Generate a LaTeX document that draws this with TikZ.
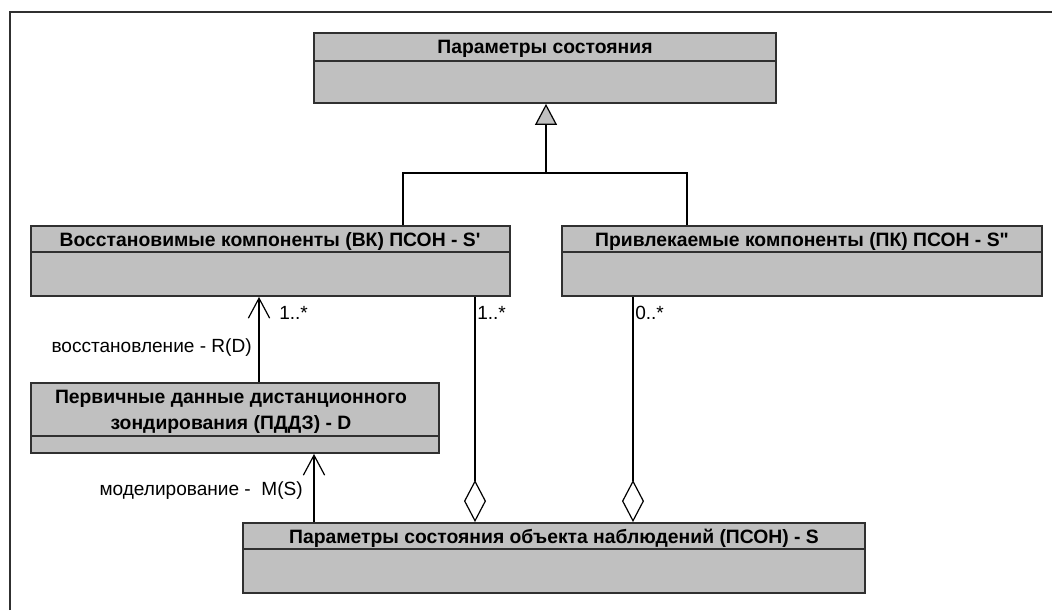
\documentclass[tikz,border=0pt]{standalone}
\usepackage{fontspec}
\setmainfont{Liberation Sans}
\newfontfamily\plainquote{Liberation Sans}
\usetikzlibrary{arrows.meta,fit}
\definecolor{boxgray}{HTML}{C0C0C0}
\definecolor{edgegray}{HTML}{303030}
\begin{document}
\begin{tikzpicture}[x=0.75pt,y=-0.75pt,
  box/.style={draw=edgegray,fill=boxgray,line width=1.4pt,inner sep=0pt},
  divider/.style={draw=edgegray,line width=1.4pt},
  hdr/.style={font=\fontsize{14.5}{19.5}\selectfont\bfseries,anchor=base,inner sep=0pt},
  lbl/.style={font=\fontsize{14.3}{17}\selectfont,inner sep=0pt},
  conn/.style={draw=black,line width=0.9pt},
  assoc/.style={conn,-{Straight Barb[length=15pt,width=16pt]}},
  aggr/.style={conn,{Diamond[fill=white,length=31.5pt,width=16.5pt]}-},
  gen/.style={conn,-{Triangle[fill=boxgray,length=15.75pt,width=16.5pt]}}
]
\useasboundingbox (0,0) rectangle (1052,610);
\fill[white] (0,0) rectangle (1052,610);
% frame
\coordinate (fa) at (10,610);
\coordinate (fb) at (10,12);
\coordinate (fc) at (1052,12);
\draw[line width=1pt,draw=edgegray] (fa) -- (fb) -- (fc);

% boxes
\coordinate (top1) at (314,33); \coordinate (top2) at (776,103);
\node[box,fit=(top1)(top2)] (top) {};
\coordinate (vk1) at (31,226); \coordinate (vk2) at (510,296);
\node[box,fit=(vk1)(vk2)] (vk) {};
\coordinate (pk1) at (562,226); \coordinate (pk2) at (1042,296);
\node[box,fit=(pk1)(pk2)] (pk) {};
\coordinate (pd1) at (31,383); \coordinate (pd2) at (439,453);
\node[box,fit=(pd1)(pd2)] (pddz) {};
\coordinate (s1) at (243,523); \coordinate (s2) at (865,593);
\node[box,fit=(s1)(s2)] (s) {};

% dividers
\coordinate (tdv) at (314,61); \draw[divider] (tdv) -- (tdv -| top.east);
\coordinate (vdv) at (31,252); \draw[divider] (vdv) -- (vdv -| vk.east);
\coordinate (pdv) at (562,252); \draw[divider] (pdv) -- (pdv -| pk.east);
\coordinate (ddv) at (31,436); \draw[divider] (ddv) -- (ddv -| pddz.east);
\coordinate (sdv) at (243,549); \draw[divider] (sdv) -- (sdv -| s.east);

% headers
\node[hdr] (topT) at (545,54) {Параметры состояния};
\node[hdr] (vkT) at (270,246.5) {Восстановимые компоненты (ВК) ПСОН - S{\plainquote'}};
\node[hdr] (pkT) at (802,246.5) {Привлекаемые компоненты (ПК) ПСОН - S{\plainquote"}};
\node[hdr] (pdT1) at (231,403) {Первичные данные дистанционного};
\node[hdr] (pdT2) at (231,429) {зондирования (ПДДЗ) - D};
\node[hdr] (sT) at (554,543) {Параметры состояния объекта наблюдений (ПСОН) - S};

% generalization
\coordinate (g) at (546,173);
\coordinate (gl) at (403,173);
\coordinate (gr) at (687,173);
\draw[gen] (g) -- (g |- top.south);
\draw[conn] (gl |- vk.north) -- (gl) -- (gr) -- (gr |- pk.north);

% associations
\coordinate (a1) at (259,0);
\coordinate (a2) at (314,0);
\draw[assoc] (a1 |- pddz.north) -- (a1 |- vk.south);
\draw[assoc] (a2 |- s.north) -- (a2 |- pddz.south);

% aggregations
\coordinate (d1) at (475,0);
\coordinate (d2) at (633,0);
\draw[aggr] (d1 |- s.north) -- (d1 |- vk.south);
\draw[aggr] (d2 |- s.north) -- (d2 |- pk.south);

% labels
\node[lbl,anchor=base west] (m1) at (279,319) {1..*};
\node[lbl,anchor=base west] (m2) at (477,319) {1..*};
\node[lbl,anchor=base west] (m3) at (635,319) {0..*};
\node[lbl,anchor=base east] (rl) at (252,352) {восстановление - R(D)};
\node[lbl,anchor=base east] (ml) at (303,495) {моделирование -\ \ M(S)};
\end{tikzpicture}
\end{document}
